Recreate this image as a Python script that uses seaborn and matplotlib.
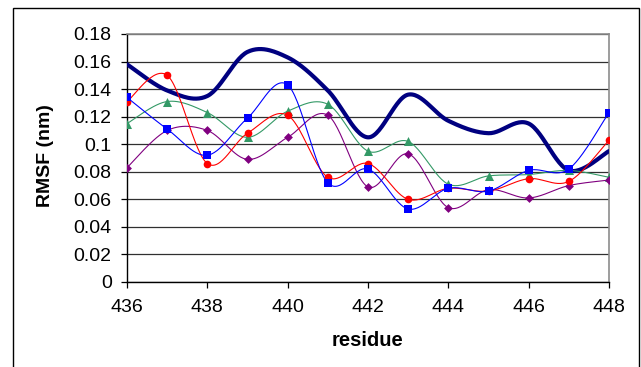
import numpy as np
import pandas as pd
import matplotlib
matplotlib.use("Agg")
import matplotlib.pyplot as plt
from matplotlib.patches import Rectangle
import seaborn as sns

residues = [436, 437, 438, 439, 440, 441, 442, 443, 444, 445, 446, 447, 448]
navy_vals = [0.158, 0.139, 0.135, 0.167, 0.163, 0.139, 0.105, 0.136, 0.117, 0.108, 0.115, 0.081, 0.095]
blue_vals = [0.134, 0.111, 0.092, 0.119, 0.143, 0.072, 0.082, 0.053, 0.068, 0.066, 0.081, 0.082, 0.123]
red_vals = [0.131, 0.150, 0.086, 0.108, 0.121, 0.076, 0.086, 0.060, 0.068, 0.066, 0.075, 0.073, 0.103]
green_vals = [0.115, 0.131, 0.123, 0.105, 0.124, 0.129, 0.095, 0.102, 0.071, 0.077, 0.078, 0.081, 0.076]
purple_vals = [0.083, 0.110, 0.110, 0.089, 0.105, 0.121, 0.069, 0.093, 0.054, 0.067, 0.061, 0.070, 0.074]

y_ticks = [0, 0.02, 0.04, 0.06, 0.08, 0.1, 0.12, 0.14, 0.16, 0.18]
y_ticklabels = ["0", "0.02", "0.04", "0.06", "0.08", "0.1", "0.12", "0.14", "0.16", "0.18"]
x_ticks = [436, 438, 440, 442, 444, 446, 448]


def smooth(xs, ys, n=30):
    """Excel-like smoothed line (Catmull-Rom / cubic Bezier) through the points."""
    xs = np.asarray(xs, float)
    ys = np.asarray(ys, float)
    px = np.concatenate([[xs[0]], xs, [xs[-1]]])
    py = np.concatenate([[ys[0]], ys, [ys[-1]]])
    outx, outy = [], []
    t = np.linspace(0, 1, n)
    for i in range(1, len(px) - 2):
        p0x, p1x, p2x, p3x = px[i - 1], px[i], px[i + 1], px[i + 2]
        p0y, p1y, p2y, p3y = py[i - 1], py[i], py[i + 1], py[i + 2]
        b1x = p1x + (p2x - p0x) / 6
        b1y = p1y + (p2y - p0y) / 6
        b2x = p2x - (p3x - p1x) / 6
        b2y = p2y - (p3y - p1y) / 6
        bx = (1 - t) ** 3 * p1x + 3 * (1 - t) ** 2 * t * b1x + 3 * (1 - t) * t ** 2 * b2x + t ** 3 * p2x
        by = (1 - t) ** 3 * p1y + 3 * (1 - t) ** 2 * t * b1y + 3 * (1 - t) * t ** 2 * b2y + t ** 3 * p2y
        if i > 1:
            bx, by = bx[1:], by[1:]
        outx.extend(bx)
        outy.extend(by)
    return np.array(outx), np.array(outy)


sns.set_theme(style="white")
plt.rcParams["font.family"] = ["Liberation Sans", "DejaVu Sans"]

fig = plt.figure(figsize=(6.41, 3.67), dpi=100)
ax = fig.add_axes([127 / 641, 1 - 282 / 367, (609 - 127) / 641, (282 - 34) / 367])

series = [
    (navy_vals, "#000080", 3.0, None, 0),
    (green_vals, "#339966", 0.8, "^", 6.5),
    (purple_vals, "#800080", 0.8, "D", 4.5),
    (red_vals, "#FF0000", 0.8, "o", 5.5),
    (blue_vals, "#0000FF", 0.8, "s", 5.5),
]

for vals, color, lw, marker, ms in series:
    sx, sy = smooth(residues, vals)
    sm = pd.DataFrame({"residue": sx, "rmsf": sy})
    sns.lineplot(data=sm, x="residue", y="rmsf", color=color, lw=lw,
                 sort=False, estimator=None, ax=ax, zorder=3)
    if marker is not None:
        pts = pd.DataFrame({"residue": residues, "rmsf": vals})
        sns.scatterplot(data=pts, x="residue", y="rmsf", color=color, marker=marker,
                        s=ms ** 2, edgecolor=color, linewidth=0, ax=ax, zorder=4)

ax.set_xlim(436, 448)
ax.set_ylim(0, 0.18)
ax.set_xticks(x_ticks)
ax.set_xticklabels([str(v) for v in x_ticks], fontsize=14)
ax.set_yticks(y_ticks)
ax.set_yticklabels(y_ticklabels, fontsize=14)
ax.yaxis.grid(True, color="#303030", lw=0.9)
ax.xaxis.grid(False)
ax.set_axisbelow(True)
ax.tick_params(axis="both", direction="out", length=4, width=0.9, color="black",
               labelcolor="black", pad=7, left=True, bottom=True)
ax.tick_params(axis="x", pad=8)

for side in ["left", "bottom"]:
    ax.spines[side].set_color("black")
    ax.spines[side].set_linewidth(1.0)
for side in ["top", "right"]:
    ax.spines[side].set_color("#8c8c8c")
    ax.spines[side].set_linewidth(1.2)
ax.spines["top"].set_zorder(5)

ax.set_xlabel("")
ax.set_ylabel("")
fig.text(45 / 641, 1 - 156 / 367, "RMSF (nm)", rotation=90, ha="center", va="center",
         fontsize=14, fontweight="bold", color="black")
fig.text(367 / 641, 1 - 341 / 367, "residue", ha="center", va="center",
         fontsize=14.5, fontweight="bold", color="black")

# outer chart-area frame
fig.patches.append(Rectangle((13 / 641, -0.2), 626 / 641, 1.2 - 7.5 / 367,
                             transform=fig.transFigure, fill=False, edgecolor="black",
                             lw=1.0, zorder=10))

fig.savefig("out.png", dpi=100)
